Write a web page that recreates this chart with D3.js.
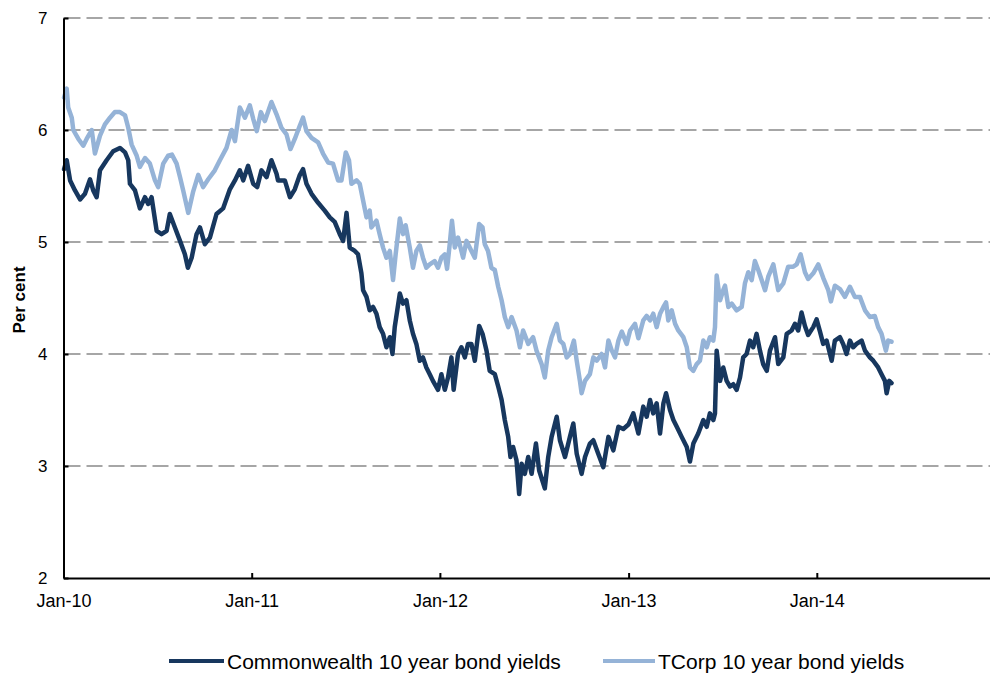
<!DOCTYPE html>
<html>
<head>
<meta charset="utf-8">
<script src="https://cdn.jsdelivr.net/npm/d3@7"></script>
<style>
  html, body { margin: 0; padding: 0; background: #fff; }
  svg { display: block; font-family: "Liberation Sans", Arial, sans-serif; }
</style>
</head>
<body>
<svg id="chart" width="990" height="675"></svg>
<script>
// ---- Data (decimal years) ----
const cwYears = [2010.003,2010.017,2010.035,2010.061,2010.088,2010.114,2010.141,2010.158,2010.176,2010.194,
2010.229,2010.264,2010.300,2010.327,2010.344,2010.353,2010.380,2010.406,2010.433,2010.450,
2010.468,2010.495,2010.521,2010.548,2010.565,2010.592,2010.619,2010.645,2010.661,2010.681,
2010.707,2010.725,2010.751,2010.778,2010.813,2010.848,2010.884,2010.911,2010.937,2010.955,
2010.981,2011.008,2011.029,2011.052,2011.079,2011.105,2011.132,2011.140,2011.176,2011.203,
2011.229,2011.256,2011.273,2011.291,2011.318,2011.353,2011.388,2011.415,2011.441,2011.468,
2011.486,2011.504,2011.521,2011.548,2011.565,2011.583,2011.592,2011.610,2011.627,2011.645,
2011.663,2011.680,2011.698,2011.716,2011.734,2011.748,2011.760,2011.787,2011.804,2011.822,
2011.840,2011.857,2011.875,2011.893,2011.910,2011.928,2011.946,2011.963,2011.990,2012.008,
2012.026,2012.043,2012.061,2012.073,2012.096,2012.114,2012.132,2012.149,2012.167,2012.185,
2012.208,2012.226,2012.247,2012.264,2012.291,2012.309,2012.327,2012.344,2012.362,2012.374,
2012.388,2012.406,2012.420,2012.433,2012.450,2012.468,2012.486,2012.509,2012.526,2012.556,
2012.574,2012.592,2012.619,2012.636,2012.663,2012.689,2012.707,2012.725,2012.751,2012.769,
2012.795,2012.813,2012.839,2012.866,2012.893,2012.919,2012.946,2012.972,2012.999,2013.025,
2013.052,2013.078,2013.096,2013.114,2013.131,2013.149,2013.167,2013.185,2013.199,2013.220,
2013.238,2013.256,2013.282,2013.309,2013.326,2013.344,2013.370,2013.397,2013.415,2013.432,
2013.450,2013.459,2013.468,2013.486,2013.503,2013.521,2013.539,2013.556,2013.574,2013.592,
2013.609,2013.627,2013.645,2013.662,2013.680,2013.698,2013.715,2013.734,2013.751,2013.778,
2013.795,2013.822,2013.840,2013.866,2013.884,2013.901,2013.919,2013.937,2013.954,2013.981,
2013.999,2014.017,2014.034,2014.052,2014.079,2014.096,2014.123,2014.140,2014.158,2014.176,
2014.193,2014.211,2014.238,2014.256,2014.282,2014.300,2014.326,2014.344,2014.362,2014.371,
2014.385,2014.397];
const cwYields = [5.65,5.73,5.55,5.46,5.38,5.43,5.56,5.46,5.40,5.64,
5.73,5.81,5.84,5.80,5.73,5.52,5.46,5.30,5.40,5.34,
5.40,5.10,5.07,5.10,5.25,5.13,5.01,4.89,4.77,4.86,
5.07,5.13,4.98,5.04,5.25,5.30,5.47,5.55,5.64,5.55,
5.68,5.52,5.49,5.64,5.58,5.73,5.61,5.55,5.55,5.40,
5.47,5.60,5.65,5.52,5.43,5.35,5.28,5.22,5.18,5.07,
5.01,5.26,4.95,4.92,4.89,4.72,4.57,4.51,4.39,4.42,
4.36,4.24,4.18,4.06,4.15,4.00,4.24,4.54,4.45,4.48,
4.30,4.18,4.09,3.94,3.97,3.88,3.82,3.76,3.68,3.82,
3.68,3.79,3.97,3.68,4.00,4.06,3.97,4.09,4.09,3.94,
4.25,4.18,4.03,3.85,3.82,3.71,3.59,3.41,3.26,3.08,
3.17,3.05,2.75,3.02,2.93,3.08,2.93,3.20,2.96,2.80,
3.08,3.26,3.44,3.23,3.08,3.26,3.38,3.11,2.93,3.08,
3.20,3.23,3.11,2.99,3.26,3.14,3.35,3.33,3.37,3.47,
3.29,3.53,3.44,3.59,3.47,3.56,3.29,3.56,3.65,3.50,
3.41,3.35,3.26,3.17,3.04,3.20,3.29,3.41,3.35,3.47,
3.41,3.47,4.03,3.76,3.88,3.76,3.71,3.73,3.68,3.79,
3.97,4.00,4.12,4.06,4.18,4.03,3.91,3.85,4.03,4.15,
3.91,3.97,4.18,4.21,4.27,4.21,4.37,4.25,4.17,4.24,
4.31,4.20,4.09,4.12,3.94,4.12,4.15,4.09,4.00,4.12,
4.06,4.09,4.12,4.03,3.97,3.94,3.88,3.82,3.76,3.65,
3.76,3.74];

const tcYears = [2010.003,2010.017,2010.025,2010.044,2010.052,2010.079,2010.105,2010.123,2010.150,2010.167,
2010.194,2010.220,2010.247,2010.273,2010.300,2010.327,2010.344,2010.362,2010.389,2010.406,
2010.433,2010.459,2010.486,2010.503,2010.530,2010.556,2010.576,2010.601,2010.619,2010.636,
2010.663,2010.689,2010.716,2010.742,2010.769,2010.804,2010.831,2010.866,2010.893,2010.911,
2010.937,2010.964,2010.990,2011.008,2011.027,2011.049,2011.070,2011.105,2011.132,2011.158,
2011.185,2011.206,2011.229,2011.256,2011.273,2011.291,2011.318,2011.353,2011.379,2011.406,
2011.432,2011.459,2011.477,2011.500,2011.517,2011.530,2011.557,2011.574,2011.592,2011.610,
2011.627,2011.636,2011.663,2011.680,2011.698,2011.716,2011.734,2011.751,2011.765,2011.787,
2011.804,2011.818,2011.840,2011.857,2011.875,2011.893,2011.910,2011.928,2011.946,2011.972,
2011.990,2012.008,2012.026,2012.038,2012.052,2012.064,2012.079,2012.096,2012.123,2012.141,
2012.167,2012.185,2012.208,2012.226,2012.238,2012.255,2012.273,2012.291,2012.309,2012.327,
2012.344,2012.362,2012.380,2012.406,2012.424,2012.441,2012.468,2012.494,2012.512,2012.539,
2012.556,2012.574,2012.592,2012.619,2012.636,2012.654,2012.672,2012.689,2012.710,2012.725,
2012.742,2012.751,2012.769,2012.795,2012.813,2012.831,2012.857,2012.875,2012.893,2012.911,
2012.928,2012.946,2012.964,2012.990,2013.008,2013.034,2013.052,2013.078,2013.096,2013.114,
2013.131,2013.149,2013.167,2013.185,2013.199,2013.211,2013.229,2013.247,2013.264,2013.291,
2013.309,2013.326,2013.344,2013.362,2013.379,2013.397,2013.415,2013.432,2013.450,2013.459,
2013.468,2013.486,2013.503,2013.512,2013.530,2013.548,2013.574,2013.601,2013.618,2013.636,
2013.654,2013.671,2013.689,2013.707,2013.725,2013.742,2013.769,2013.795,2013.822,2013.848,
2013.875,2013.893,2013.914,2013.937,2013.954,2013.981,2014.008,2014.034,2014.061,2014.075,
2014.096,2014.123,2014.149,2014.176,2014.202,2014.229,2014.256,2014.282,2014.308,2014.326,
2014.344,2014.367,2014.379,2014.397];
const tcYields = [6.29,6.37,6.20,6.11,6.00,5.92,5.86,5.92,6.00,5.79,
5.95,6.05,6.11,6.16,6.16,6.13,6.02,5.87,5.77,5.67,
5.75,5.70,5.55,5.49,5.70,5.77,5.78,5.70,5.58,5.46,
5.26,5.45,5.60,5.49,5.56,5.64,5.73,5.84,6.00,5.90,
6.20,6.11,6.22,6.10,5.99,6.16,6.08,6.25,6.14,6.02,
5.96,5.83,5.92,6.04,6.11,5.99,5.93,5.89,5.79,5.71,
5.70,5.55,5.55,5.80,5.73,5.52,5.55,5.52,5.37,5.22,
5.28,5.13,5.19,5.07,4.95,4.86,4.92,4.66,4.89,5.21,
5.07,5.15,4.95,4.77,4.92,4.97,4.86,4.77,4.80,4.83,
4.77,4.86,4.89,4.76,4.98,5.19,4.95,5.04,4.86,5.01,
4.92,4.86,5.16,5.13,4.98,4.92,4.77,4.75,4.60,4.48,
4.33,4.24,4.33,4.21,4.06,4.21,4.09,4.15,4.03,3.91,
3.79,4.03,4.15,4.27,4.12,4.09,3.97,4.00,4.12,3.94,
3.76,3.65,3.76,3.82,3.97,3.94,4.00,3.88,4.12,4.03,
3.97,4.12,4.20,4.09,4.21,4.27,4.14,4.30,4.34,4.30,
4.36,4.24,4.36,4.42,4.46,4.30,4.39,4.27,4.21,4.15,
4.06,3.88,3.85,3.91,3.94,4.12,4.06,4.15,4.12,4.24,
4.70,4.48,4.57,4.61,4.42,4.45,4.39,4.42,4.63,4.73,
4.66,4.83,4.75,4.66,4.57,4.69,4.80,4.57,4.63,4.78,
4.78,4.80,4.89,4.73,4.67,4.72,4.80,4.68,4.57,4.47,
4.61,4.58,4.51,4.60,4.51,4.51,4.39,4.33,4.34,4.24,
4.18,4.03,4.12,4.11];

const seriesNames = ["Commonwealth 10 year bond yields", "TCorp 10 year bond yields"];
const seriesColors = ["#17375E", "#95B3D7"];
const tickYears = [2010, 2011, 2012, 2013, 2014];
const tickLabels = ["Jan-10", "Jan-11", "Jan-12", "Jan-13", "Jan-14"];
const yTicks = [2, 3, 4, 5, 6, 7];
const gridValues = [3, 4, 5, 6, 7];
const yLabel = "Per cent";

(function () {
  function toDate(t) {
    const yr = Math.floor(t);
    const s = new Date(yr, 0, 1), e = new Date(yr + 1, 0, 1);
    return new Date(+s + (t - yr) * (e - s));
  }

  const svg = d3.select("#chart");
  const plotLeft = 63.5, plotRight = 1005, plotTop = 18, plotBottom = 578;

  const x = d3.scaleTime()
    .domain([new Date(2010, 0, 1), new Date(2015, 0, 1)])
    .range([plotLeft, plotRight]);
  const y = d3.scaleLinear().domain([2, 7]).range([plotBottom, plotTop]);

  // gridlines
  svg.append("g").selectAll("line").data(gridValues).join("line")
    .attr("x1", plotLeft + 1).attr("x2", plotRight)
    .attr("y1", d => y(d)).attr("y2", d => y(d))
    .attr("stroke", "#a6a6a6").attr("stroke-width", 2)
    .attr("stroke-dasharray", "16,6");

  // lines
  const line = d3.line().x(d => x(d[0])).y(d => y(d[1]));
  const cwData = cwYears.map((t, i) => [toDate(t), cwYields[i]]);
  const tcData = tcYears.map((t, i) => [toDate(t), tcYields[i]]);

  [cwData, tcData].forEach((data, i) => {
    svg.append("path").datum(data).attr("d", line)
      .attr("fill", "none").attr("stroke", seriesColors[i])
      .attr("stroke-width", 4.5).attr("stroke-linejoin", "round").attr("stroke-linecap", "round");
  });

  // y axis
  const yAxis = d3.axisLeft(y).tickValues(yTicks).tickFormat(d3.format("d"))
    .tickSize(-5).tickSizeOuter(0).tickPadding(16);
  const gy = svg.append("g").attr("transform", `translate(${plotLeft},0)`).call(yAxis);
  gy.select(".domain").attr("stroke", "#000").attr("stroke-width", 2);
  gy.selectAll(".tick line").attr("stroke", "#000").attr("stroke-width", 2);
  gy.selectAll("text").attr("font-size", 17).attr("fill", "#000")
    .attr("font-family", "Liberation Sans, Arial, sans-serif");

  // x axis
  const xAxis = d3.axisBottom(x)
    .tickValues(tickYears.map(yr => new Date(yr, 0, 1)))
    .tickFormat((d, i) => tickLabels[i])
    .tickSize(-5).tickSizeOuter(0).tickPadding(16);
  const gx = svg.append("g").attr("transform", `translate(0,${plotBottom})`).call(xAxis);
  gx.select(".domain").attr("stroke", "#000").attr("stroke-width", 2);
  gx.selectAll(".tick line").attr("stroke", "#000").attr("stroke-width", 2);
  gx.selectAll("text").attr("font-size", 18).attr("fill", "#000")
    .attr("font-family", "Liberation Sans, Arial, sans-serif");

  // y label
  svg.append("text")
    .attr("transform", "translate(25,300) rotate(-90)")
    .attr("text-anchor", "middle")
    .attr("font-size", 17).attr("font-weight", "bold").attr("fill", "#000")
    .text(yLabel);

  // legend
  const legendPos = [{x1: 169, x2: 224, tx: 227}, {x1: 603, x2: 655, tx: 658}];
  seriesNames.forEach((name, i) => {
    const p = legendPos[i];
    svg.append("line").attr("x1", p.x1).attr("x2", p.x2).attr("y1", 661).attr("y2", 661)
      .attr("stroke", seriesColors[i]).attr("stroke-width", 4);
    svg.append("text").attr("x", p.tx).attr("y", 669)
      .attr("font-size", 21).attr("fill", "#000").text(name);
  });
})();
</script>
</body>
</html>
